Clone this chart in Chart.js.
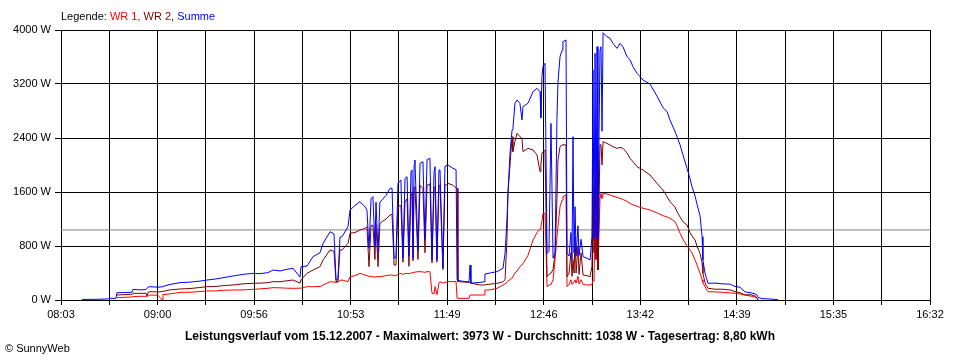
<!DOCTYPE html>
<html>
<head>
<meta charset="utf-8">
<script src="https://cdn.jsdelivr.net/npm/chart.js@4/dist/chart.umd.min.js"></script>
<style>
  body { margin: 0; background: #fff; }
  #wrap { position: relative; width: 960px; height: 360px; font-family: 'Liberation Sans', Arial, sans-serif; }
  #legend { position: absolute; left: 61px; top: 10px; font-size: 11px; color: #000; }
  #info { position: absolute; left: 0; width: 960px; top: 329px; text-align: center; font-size: 12px; font-weight: bold; color: #000; }
  #copy { position: absolute; left: 5px; top: 342px; font-size: 11px; color: #000; }
</style>
</head>
<body>
<div id="wrap">
  <canvas id="leistung" width="960" height="360"></canvas>
  <div id="legend">Legende: <span style="color:#ff0000">WR 1,</span> <span style="color:#800000">WR 2,</span> <span style="color:#0000ff">Summe</span></div>
  <div id="info">Leistungsverlauf vom 15.12.2007 - Maximalwert: 3973 W - Durchschnitt: 1038 W - Tagesertrag: 8,80 kWh</div>
  <div id="copy">© SunnyWeb</div>
</div>
<script>
// Zeit in Minuten seit Mitternacht
const xMin = 483;   // 08:03
const xMax = 992;   // 16:32
const tickLabels = ['08:03', '09:00', '09:56', '10:53', '11:49', '12:46', '13:42', '14:39', '15:35', '16:32'];
const yTicksMax = 4000;
const durchschnitt = 1038;

const times = [
  495.3, 502.9, 510.5, 511.7, 515.2, 515.8, 520.5, 524.6, 525.2, 529.3,
  532.8, 533.4, 534.0, 535.1, 539.8, 542.2, 542.7, 546.8, 552.7, 558.6,
  564.4, 568.5, 573.2, 579.1, 583.7, 589.6, 595.5, 599.6, 604.2, 607.2,
  611.3, 615.4, 618.9, 623.0, 623.6, 627.1, 630.6, 634.7, 636.5, 640.6,
  642.9, 644.1, 645.2, 646.4, 647.6, 651.1, 652.3, 655.2, 658.1, 661.1,
  662.2, 663.4, 664.6, 665.7, 666.9, 667.5, 668.7, 669.8, 671.0, 673.4,
  675.7, 676.9, 678.1, 679.2, 680.4, 682.1, 683.3, 684.5, 685.7, 686.8,
  688.0, 688.6, 689.2, 689.8, 690.3, 692.1, 693.3, 695.0, 696.2, 697.4,
  699.1, 700.3, 701.5, 702.1, 703.2, 704.4, 705.0, 706.7, 707.9, 709.7,
  712.6, 714.4, 715.0, 715.5, 719.6, 722.0, 722.6, 723.1, 728.4, 730.8,
  731.3, 734.3, 738.4, 741.9, 743.1, 744.2, 744.8, 746.0, 747.2, 747.7,
  748.9, 750.1, 751.8, 753.0, 753.6, 756.5, 759.5, 761.8, 763.6, 764.1,
  764.7, 765.3, 766.5, 767.7, 768.8, 770.0, 771.2, 772.4, 773.5, 774.1,
  775.3, 776.5, 777.0, 778.8, 779.4, 780.6, 781.7, 782.3, 782.9, 783.5,
  784.1, 784.7, 785.8, 786.4, 787.6, 788.8, 791.1, 792.9, 794.0, 794.6,
  795.2, 795.8, 796.4, 797.0, 797.5, 798.7, 799.3, 799.9, 800.5, 802.8,
  804.6, 806.3, 808.7, 810.4, 812.2, 814.5, 816.3, 818.0, 820.4, 822.1,
  823.9, 828.0, 832.1, 835.6, 838.0, 839.7, 842.6, 843.8, 845.6, 847.3,
  849.7, 851.4, 852.6, 854.4, 855.5, 857.3, 858.5, 859.0, 860.2, 860.8,
  862.0, 866.1, 870.2, 874.9, 877.8, 880.7, 883.6, 886.6, 889.5, 890.7,
  891.3, 893.6, 898.3, 903.0
];

const summe = [
  8, 10, 15, 25, 25, 108, 110, 115, 158, 150,
  155, 175, 190, 197, 190, 195, 200, 230, 257, 265,
  280, 296, 310, 335, 356, 380, 395, 390, 405, 444,
  430, 455, 469, 340, 494, 503, 642, 700, 839, 1012,
  980, 296, 300, 930, 938, 1086, 1333, 1400, 1457, 1380,
  1333, 765, 1500, 1531, 800, 1450, 700, 1450, 1481, 1550,
  1654, 1654, 622, 622, 1728, 1778, 617, 1800, 1827, 650,
  1900, 1926, 620, 2000, 2074, 741, 2025, 2049, 900, 2080,
  2099, 593, 1900, 1975, 600, 1926, 1926, 474, 1980, 2000,
  1951, 1930, 300, 290, 272, 272, 518, 250, 260, 270,
  385, 400, 420, 469, 691, 1185, 1580, 2173, 2519, 2540,
  2914, 2963, 2914, 2667, 2864, 2914, 3086, 3136, 3086, 2700,
  3309, 3457, 3506, 691, 720, 2617, 620, 700, 2700, 3235,
  3605, 3700, 3827, 3852, 691, 650, 1000, 600, 2420, 700,
  1383, 650, 1100, 660, 900, 640, 620, 593, 938, 3407,
  900, 3654, 938, 3753, 900, 3700, 3753, 2500, 3960, 3900,
  3877, 3802, 3728, 3802, 3750, 3605, 3560, 3457, 3358, 3309,
  3259, 3200, 3020, 2850, 2790, 2667, 2500, 2420, 2300, 2150,
  1950, 1800, 1679, 1540, 1420, 1250, 938, 593, 400, 346,
  247, 250, 240, 235, 200, 190, 120, 110, 90, 74,
  40, 20, 15, 5
];

const wr2 = [
  null, null, null, null, null, 74, 80, 85, 100, 98,
  100, 60, 115, 123, 120, 125, 128, 150, 163, 170,
  185, 197, 200, 215, 222, 240, 247, 250, 257, 272,
  270, 285, 296, 250, 300, 395, 444, 494, 593, 741,
  720, 272, 275, 740, 741, 839, 988, 1000, 1037, 1060,
  1086, 494, 1100, 1111, 600, 1120, 494, 1130, 1160, 1200,
  1259, 1270, 518, 518, 1383, 1400, 560, 1450, 1500, 500,
  1550, 1580, 580, 1650, 1680, 600, 1700, 1650, 700, 1700,
  1720, 550, 1650, 1680, 560, 1700, 1700, 450, 1700, 1728,
  1700, 1654, 1654, 272, 265, 260, 255, 250, 222, 222,
  225, 235, 247, 270, 300, 889, 1580, 2000, 2420, 2198,
  2350, 2469, 2420, 2395, 2198, 2247, 2222, 2148, 1901, 2000,
  2173, 2200, 2222, 346, 380, 400, 450, 691, 1500, 2074,
  2272, 2296, 2300, 2296, 346, 400, 700, 350, 600, 400,
  938, 400, 800, 380, 700, 370, 360, 346, 500, 1679,
  700, 2222, 600, 2200, 444, 2300, 2300, 2000, 2346, 2320,
  2296, 2270, 2247, 2260, 2247, 2180, 2099, 2050, 1975, 1950,
  1926, 1852, 1728, 1630, 1530, 1457, 1380, 1309, 1230, 1160,
  1111, 1000, 950, 889, 800, 691, 550, 395, 260, 220,
  173, 160, 160, 150, 123, 110, 74, 80, 60, 30,
  0, null, null, null
];

const wr1 = [
  null, null, null, null, null, 35, 40, 45, 50, 55,
  55, 55, 60, 74, 70, 0, 80, 90, 114, 115,
  125, 133, 135, 145, 148, 150, 158, 165, 173, 183,
  180, 175, 173, 175, 175, 197, 197, 200, 222, 272,
  265, 260, 265, 290, 296, 272, 346, 360, 395, 370,
  360, 350, 350, 345, 340, 340, 350, 346, 350, 360,
  370, 370, 360, 360, 380, 395, 380, 390, 395, 390,
  400, 400, 405, 410, 410, 420, 420, 415, 410, 420,
  420, 100, 90, 200, 80, 250, 270, 250, 260, 272,
  272, 272, 25, 25, 25, 25, 74, 74, 74, 74,
  148, 150, 173, 222, 240, 260, 280, 300, 330, 346,
  400, 430, 494, 520, 540, 660, 889, 1000, 1050, 1100,
  1160, 1284, 1284, 197, 220, 230, 300, 600, 938, 1100,
  1383, 1480, 1531, 1556, 197, 230, 300, 230, 250, 260,
  300, 250, 350, 240, 300, 230, 222, 222, 230, 300,
  280, 1185, 600, 1300, 444, 1500, 1580, 1500, 1580, 1570,
  1556, 1540, 1520, 1506, 1490, 1460, 1432, 1410, 1390, 1373,
  1360, 1333, 1290, 1250, 1230, 1210, 1160, 1100, 988, 900,
  800, 741, 700, 593, 520, 395, 300, 260, 197, 170,
  123, 120, 115, 105, 99, 90, 74, 60, 44, 25,
  0, null, null, null
];

function punkte(values) {
  return times.map((t, i) => ({ x: t, y: values[i] }));
}

Chart.defaults.font.family = "'Liberation Sans', Arial, sans-serif";
Chart.defaults.font.size = 11;
Chart.defaults.color = '#000';

new Chart(document.getElementById('leistung'), {
  type: 'line',
  data: {
    datasets: [
      { label: 'Summe', data: punkte(summe), borderColor: '#0000ff' },
      { label: 'WR 2', data: punkte(wr2), borderColor: '#800000' },
      { label: 'WR 1', data: punkte(wr1), borderColor: '#ff0000' },
      {
        label: 'Durchschnitt',
        data: [{ x: xMin, y: durchschnitt }, { x: xMax, y: durchschnitt }],
        borderColor: '#808080'
      }
    ]
  },
  options: {
    responsive: false,
    animation: false,
    parsing: false,
    normalized: true,
    layout: { padding: { top: 30, right: 30, bottom: 30, left: 0 } },
    elements: {
      point: { radius: 0 },
      line: { borderWidth: 1, tension: 0, fill: false }
    },
    plugins: {
      legend: { display: false },
      tooltip: { enabled: false }
    },
    scales: {
      x: {
        type: 'linear',
        min: xMin,
        max: xMax,
        afterBuildTicks: (scale) => {
          scale.ticks = [];
          for (let i = 0; i <= 18; i++) {
            scale.ticks.push({ value: xMin + i * (xMax - xMin) / 18 });
          }
        },
        afterFit: (scale) => { scale.height = 30; },
        ticks: {
          autoSkip: false,
          maxRotation: 0,
          padding: 3,
          callback: (value, index) => index % 2 === 0 ? tickLabels[index / 2] : ''
        },
        grid: { color: '#000', lineWidth: 1, tickLength: 5 },
        border: { color: '#000', width: 1 }
      },
      y: {
        min: 0,
        max: yTicksMax,
        afterFit: (scale) => { scale.width = 61; },
        ticks: {
          stepSize: 800,
          padding: 4,
          callback: (value) => value + ' W'
        },
        grid: { color: '#000', lineWidth: 1, tickLength: 6 },
        border: { color: '#000', width: 1 }
      }
    }
  }
});
</script>
</body>
</html>
